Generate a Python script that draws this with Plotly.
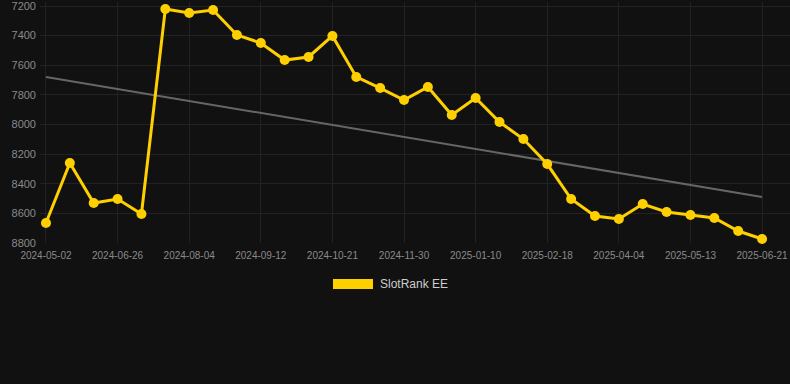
import plotly.graph_objects as go

dates = [
    "2024-05-02", "2024-05-20", "2024-06-07", "2024-06-26", "2024-07-09",
    "2024-07-22", "2024-08-04", "2024-08-17", "2024-08-30", "2024-09-12",
    "2024-09-25", "2024-10-08", "2024-10-21", "2024-11-03", "2024-11-16",
    "2024-11-30", "2024-12-13", "2024-12-27", "2025-01-10", "2025-01-23",
    "2025-02-05", "2025-02-18", "2025-03-05", "2025-03-20", "2025-04-04",
    "2025-04-17", "2025-04-30", "2025-05-13", "2025-05-26", "2025-06-08",
    "2025-06-21",
]
rank = [
    8665, 8260, 8530, 8503, 8604, 7220, 7247, 7227, 7396, 7450,
    7565, 7544, 7402, 7679, 7754, 7835, 7747, 7936, 7821, 7983,
    8098, 8267, 8503, 8618, 8638, 8537, 8591, 8611, 8631, 8719,
    8773,
]
trend_dates = [dates[0], dates[-1]]
trend_values = [7679, 8489]
tick_dates = dates[::3]
y_ticks = [7200, 7400, 7600, 7800, 8000, 8200, 8400, 8600, 8800]
series_name = "SlotRank EE"

bg = "#111111"
grid = "#222222"
tick_color = "#8a8a8a"
yellow = "#FFD000"

# plot area in pixels: x 40..790, y 2..243
top_px, bot_px = 2, 243
left_px, right_px = 40, 790
pw = right_px - left_px
ph = bot_px - top_px

def px_x(x):
    return (x - left_px) / pw

def px_y(y):
    return (bot_px - y) / ph

fig = go.Figure()
fig.add_trace(go.Scatter(
    x=trend_dates, y=trend_values, mode="lines",
    line=dict(color="#666666", width=2), hoverinfo="skip", showlegend=False,
))
fig.add_trace(go.Scatter(
    x=dates, y=rank, mode="lines+markers", name=series_name,
    line=dict(color=yellow, width=3),
    marker=dict(color=yellow, size=10),
    cliponaxis=False, showlegend=False,
))

fig.add_shape(type="rect", xref="paper", yref="paper",
              x0=px_x(333), x1=px_x(373), y0=px_y(289), y1=px_y(279),
              fillcolor=yellow, line=dict(width=0))
fig.add_annotation(xref="paper", yref="paper",
                   x=px_x(378), y=px_y(284),
                   text=series_name, showarrow=False, xanchor="left", yanchor="middle",
                   font=dict(family="Liberation Sans, Arial, sans-serif", size=12, color="#cccccc"))

fig.update_layout(
    width=790, height=384,
    paper_bgcolor=bg, plot_bgcolor=bg,
    margin=dict(l=left_px, r=790 - right_px, t=top_px, b=384 - bot_px),
    font=dict(family="Liberation Sans, Arial, sans-serif", color=tick_color),
)
fig.update_xaxes(
    type="category", categoryorder="array", categoryarray=dates,
    range=[-0.25, 31.17],
    tickmode="array", tickvals=tick_dates, ticktext=tick_dates,
    showgrid=True, gridcolor=grid, gridwidth=1,
    zeroline=False, showline=False, ticks="",
    ticklabelstandoff=5, ticklabeloverflow="allow",
    tickfont=dict(size=10, color=tick_color),
)
fig.update_yaxes(
    range=[8800, 7200 - 4 * 6.75],
    tickmode="array", tickvals=y_ticks,
    showgrid=True, gridcolor=grid, gridwidth=1,
    zeroline=False, showline=False, ticks="",
    ticklabelstandoff=3, ticklabeloverflow="allow",
    tickfont=dict(size=11, color=tick_color),
)

fig.write_html(
    "out.html",
    config={"displayModeBar": False},
    post_script="document.body.style.margin='0';document.body.style.background='#111111';",
)
